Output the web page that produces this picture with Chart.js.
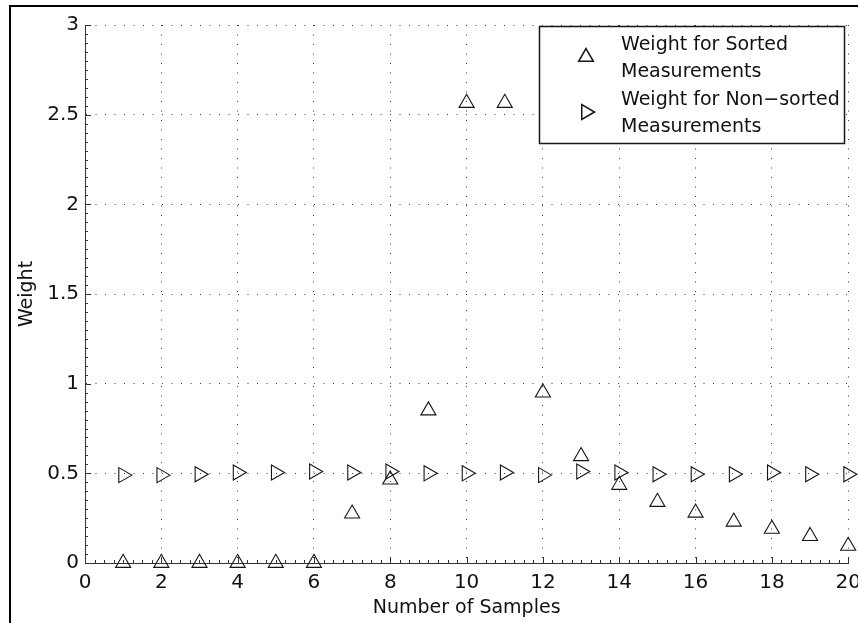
<!DOCTYPE html>
<html>
<head>
<meta charset="utf-8">
<script src="https://cdn.jsdelivr.net/npm/chart.js@4/dist/chart.umd.min.js"></script>
<style>
  html, body { margin: 0; padding: 0; background: #fff; }
  #wrap { width: 858px; height: 623px; position: relative; }
</style>
</head>
<body>
<div id="wrap"><canvas id="weightChart" width="858" height="623"></canvas></div>
<script>
// data
const samples = [1, 2, 3, 4, 5, 6, 7, 8, 9, 10, 11, 12, 13, 14, 15, 16, 17, 18, 19, 20];
const sortedWeights = [0, 0, 0, 0, 0, 0, 0.275, 0.465, 0.85, 2.565, 2.565, 0.95, 0.595, 0.435, 0.34, 0.28, 0.23, 0.19, 0.15, 0.095];
const nonSortedWeights = [0.49, 0.49, 0.495, 0.505, 0.505, 0.51, 0.505, 0.51, 0.5, 0.5, 0.505, 0.49, 0.51, 0.505, 0.495, 0.495, 0.495, 0.505, 0.495, 0.495];
const xTickLabels = ['0', '2', '4', '6', '8', '10', '12', '14', '16', '18', '20'];
const yTickLabels = ['0', '0.5', '1', '1.5', '2', '2.5', '3'];
const legendLines = [
    ['Weight for Sorted', 'Measurements'],
    ['Weight for Non\u2212sorted', 'Measurements']
];

const FONT = 'DejaVu Sans';
const INK = '#151515';
Chart.defaults.font.family = FONT;
Chart.defaults.color = '#111';

const toPoints = ys => samples.map((x, i) => ({ x: x, y: ys[i] }));

// thick frame on the left and top edge
const framePlugin = {
    id: 'frame',
    afterDraw(chart) {
        const ctx = chart.ctx;
        ctx.save();
        ctx.fillStyle = '#000';
        ctx.fillRect(9, 5, chart.width - 9, 2);
        ctx.fillRect(9, 5, 2, chart.height - 5);
        ctx.restore();
    }
};

// matlab style inward ticks, major + minor
const tickPlugin = {
    id: 'inwardTicks',
    afterDraw(chart) {
        const { ctx, chartArea: a, scales: { x, y } } = chart;
        ctx.save();
        ctx.strokeStyle = '#333';
        ctx.lineWidth = 1;
        ctx.beginPath();
        for (let k = 0; k <= 80; k++) {
            const px = Math.round(x.getPixelForValue(k / 4)) + 0.5;
            const len = k % 8 === 0 ? 6 : 3;
            ctx.moveTo(px, a.bottom);
            ctx.lineTo(px, a.bottom - len);
        }
        for (let k = 0; k <= 60; k++) {
            const py = Math.round(y.getPixelForValue(k * 0.05)) + 0.5;
            const len = k % 10 === 0 ? 6 : 3;
            ctx.moveTo(a.left, py);
            ctx.lineTo(a.left + len, py);
        }
        ctx.stroke();
        ctx.restore();
    }
};

// boxed legend with two-line entries
const legendPlugin = {
    id: 'boxLegend',
    afterDatasetsDraw(chart) {
        const ctx = chart.ctx;
        const box = { x: 539.5, y: 26.5, w: 305, h: 117 };
        ctx.save();
        ctx.fillStyle = '#fff';
        ctx.fillRect(box.x, box.y, box.w, box.h);
        ctx.strokeStyle = INK;
        ctx.lineWidth = 1.5;
        ctx.strokeRect(box.x, box.y, box.w, box.h);

        const rows = [[45, 72], [100, 127]];
        const markerY = [57, 112];
        chart.data.datasets.forEach((ds, i) => {
            ctx.fillStyle = 'rgba(0,0,0,0)';
            ctx.strokeStyle = INK;
            Chart.helpers.drawPoint(ctx, {
                pointStyle: ds.pointStyle,
                rotation: ds.rotation || 0,
                radius: 8.5,
                borderWidth: 1
            }, 586, markerY[i]);
            ctx.fillStyle = '#111';
            ctx.font = '19px "' + FONT + '"';
            ctx.textAlign = 'left';
            ctx.textBaseline = 'middle';
            legendLines[i].forEach((line, j) => ctx.fillText(line, 621, rows[i][j]));
        });
        ctx.restore();
    }
};

const gridStyle = { color: '#3a3a3a', lineWidth: 1, drawTicks: false };
const borderStyle = { color: '#333', width: 1, dash: [1, 8.5] };

new Chart(document.getElementById('weightChart'), {
    type: 'scatter',
    data: {
        datasets: [{
            label: legendLines[0].join(' '),
            data: toPoints(sortedWeights),
            pointStyle: 'triangle',
            rotation: 0,
            pointRadius: 8.7,
            borderColor: INK,
            backgroundColor: 'rgba(0,0,0,0)',
            borderWidth: 1.1,
            clip: false
        }, {
            label: legendLines[1].join(' '),
            data: toPoints(nonSortedWeights),
            pointStyle: 'triangle',
            rotation: 90,
            pointRadius: 8.7,
            borderColor: INK,
            backgroundColor: 'rgba(0,0,0,0)',
            borderWidth: 1.1,
            clip: false
        }]
    },
    options: {
        responsive: false,
        animation: false,
        layout: { padding: { left: 0, right: 9, top: 25, bottom: 0 } },
        plugins: {
            legend: { display: false },
            tooltip: { enabled: false }
        },
        scales: {
            x: {
                type: 'linear',
                min: 0,
                max: 20,
                grid: gridStyle,
                border: borderStyle,
                ticks: {
                    stepSize: 2,
                    autoSkip: false,
                    maxRotation: 0,
                    padding: 8,
                    font: { size: 20 },
                    callback: (v, i) => xTickLabels[i]
                },
                title: {
                    display: true,
                    text: 'Number of Samples',
                    font: { size: 19 },
                    padding: { top: 0, bottom: 4 }
                },
                afterFit(s) {
                    s.height = 60;
                    s.paddingLeft = 0;
                    s.paddingRight = 0;
                }
            },
            y: {
                type: 'linear',
                min: 0,
                max: 3,
                grid: gridStyle,
                border: borderStyle,
                ticks: {
                    stepSize: 0.5,
                    autoSkip: false,
                    padding: 6,
                    font: { size: 20 },
                    callback: (v, i) => yTickLabels[i]
                },
                title: {
                    display: true,
                    text: 'Weight',
                    font: { size: 19 },
                    padding: { top: 16, bottom: 0 }
                },
                afterFit(s) {
                    s.width = 85;
                    s.paddingTop = 0;
                    s.paddingBottom = 0;
                }
            }
        }
    },
    plugins: [tickPlugin, legendPlugin, framePlugin]
});
</script>
</body>
</html>
